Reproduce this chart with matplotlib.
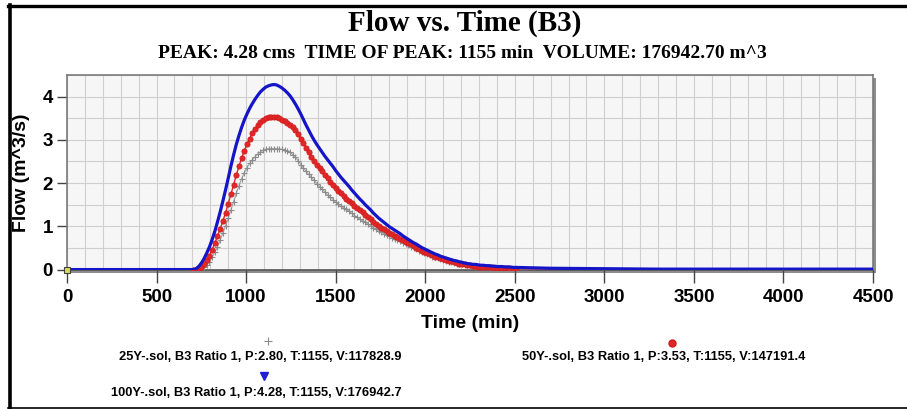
import numpy as np
import matplotlib
matplotlib.use("Agg")
import matplotlib.pyplot as plt
from matplotlib.lines import Line2D
from matplotlib.patches import Rectangle

# time axis of the hydrographs, 15 min step (705 ... 2505 min)
t = np.arange(705, 2506, 15)

q_100y = [0.00, 0.02, 0.07, 0.15, 0.25, 0.38, 0.52, 0.69, 0.88, 1.10,
          1.33, 1.58, 1.84, 2.11, 2.39, 2.65, 2.89, 3.10, 3.29, 3.46,
          3.60, 3.73, 3.84, 3.94, 4.03, 4.11, 4.17, 4.22, 4.25, 4.27,
          4.28, 4.27, 4.24, 4.20, 4.15, 4.09, 4.02, 3.93, 3.83, 3.72,
          3.60, 3.47, 3.34, 3.22, 3.10, 2.99, 2.89, 2.80, 2.71, 2.62,
          2.54, 2.46, 2.38, 2.29, 2.21, 2.13, 2.06, 1.99, 1.92, 1.84,
          1.77, 1.70, 1.63, 1.57, 1.50, 1.44, 1.38, 1.31, 1.25, 1.19,
          1.14, 1.09, 1.04, 0.99, 0.95, 0.91, 0.87, 0.83, 0.78, 0.74,
          0.70, 0.66, 0.62, 0.59, 0.55, 0.51, 0.48, 0.45, 0.42, 0.39,
          0.36, 0.34, 0.31, 0.29, 0.27, 0.25, 0.23, 0.21, 0.20, 0.18,
          0.17, 0.15, 0.14, 0.13, 0.12, 0.12, 0.11, 0.10, 0.10, 0.09,
          0.09, 0.08, 0.08, 0.07, 0.07, 0.07, 0.06, 0.06, 0.06, 0.05,
          0.05]

q_50y = [0.00, 0.00, 0.02, 0.06, 0.12, 0.21, 0.32, 0.46, 0.61, 0.77,
         0.94, 1.12, 1.31, 1.52, 1.74, 1.96, 2.18, 2.39, 2.58, 2.75,
         2.90, 3.03, 3.15, 3.25, 3.34, 3.41, 3.46, 3.50, 3.52, 3.53,
         3.53, 3.52, 3.50, 3.47, 3.44, 3.40, 3.35, 3.29, 3.22, 3.13,
         3.03, 2.93, 2.82, 2.71, 2.61, 2.52, 2.43, 2.35, 2.27, 2.19,
         2.11, 2.03, 1.96, 1.89, 1.82, 1.76, 1.70, 1.64, 1.58, 1.53,
         1.47, 1.42, 1.37, 1.32, 1.27, 1.21, 1.16, 1.11, 1.06, 1.01,
         0.97, 0.93, 0.89, 0.85, 0.82, 0.78, 0.75, 0.71, 0.68, 0.64,
         0.61, 0.58, 0.54, 0.51, 0.47, 0.44, 0.41, 0.38, 0.35, 0.33,
         0.30, 0.28, 0.26, 0.24, 0.22, 0.20, 0.19, 0.17, 0.16, 0.14,
         0.13, 0.12, 0.11, 0.10, 0.09, 0.08, 0.07, 0.07, 0.06, 0.06,
         0.05, 0.05, 0.04, 0.04, 0.04, 0.03, 0.03, 0.03, 0.02, 0.02,
         0.02]

q_25y = [0.00, 0.00, 0.00, 0.02, 0.06, 0.11, 0.18, 0.28, 0.40, 0.53,
         0.68, 0.84, 1.01, 1.19, 1.38, 1.57, 1.76, 1.94, 2.10, 2.24,
         2.36, 2.46, 2.54, 2.61, 2.67, 2.72, 2.76, 2.78, 2.80, 2.80,
         2.80, 2.80, 2.79, 2.78, 2.76, 2.74, 2.71, 2.66, 2.60, 2.52,
         2.43, 2.35, 2.27, 2.20, 2.13, 2.06, 1.99, 1.92, 1.86, 1.79,
         1.73, 1.67, 1.62, 1.56, 1.51, 1.47, 1.43, 1.39, 1.35, 1.30,
         1.25, 1.21, 1.17, 1.13, 1.09, 1.05, 1.01, 0.97, 0.93, 0.89,
         0.86, 0.83, 0.80, 0.77, 0.74, 0.71, 0.68, 0.65, 0.62, 0.59,
         0.56, 0.53, 0.50, 0.47, 0.44, 0.41, 0.38, 0.35, 0.33, 0.30,
         0.28, 0.26, 0.24, 0.22, 0.20, 0.18, 0.17, 0.15, 0.14, 0.13,
         0.12, 0.11, 0.10, 0.09, 0.08, 0.07, 0.06, 0.06, 0.05, 0.05,
         0.04, 0.04, 0.03, 0.03, 0.03, 0.02, 0.02, 0.02, 0.01, 0.01,
         0.01]

# flat parts before the rise and after the recession
head_t = [0, 690]
tail_t = [2700, 3000, 3300, 4500]
tail_100y = [0.03, 0.02, 0.01, 0.01]
tail_50y = [0.01, 0.0, 0.0, 0.0]
tail_25y = [0.0, 0.0, 0.0, 0.0]

labels = ["25Y-.sol, B3 Ratio 1, P:2.80, T:1155, V:117828.9",
          "50Y-.sol, B3 Ratio 1, P:3.53, T:1155, V:147191.4",
          "100Y-.sol, B3 Ratio 1, P:4.28, T:1155, V:176942.7"]

W, H = 907, 409
fig = plt.figure(figsize=(W / 100, H / 100), dpi=100)

def fx(px):
    return px / W

def fy(py):
    return 1 - py / H

ax = fig.add_axes([fx(67), fy(270), fx(873) - fx(67), fy(75) - fy(270)])

# drop shadow of the plot frame
fig.add_artist(Rectangle((fx(70), fy(273)), fx(873) - fx(67), fy(75) - fy(270),
                         transform=fig.transFigure, facecolor="#8c8c8c",
                         edgecolor="none", zorder=-1))

ax.set_facecolor("#f6f6f6")
ax.set_xlim(0, 4500)
ax.set_ylim(-0.01, 4.5)
ax.set_xticks(np.arange(0, 4501, 500))
ax.set_yticks([0, 1, 2, 3, 4])
ax.set_xticks(np.arange(0, 4501, 100), minor=True)
ax.set_yticks(np.arange(0, 4.51, 0.5), minor=True)
ax.grid(True, which="both", color="#cfcfcf", linewidth=0.8)
ax.tick_params(which="minor", length=0)
ax.tick_params(which="major", width=1, color="#444444", labelsize=13.5)
ax.tick_params(axis="x", which="major", length=9.5, pad=4.5)
ax.tick_params(axis="y", which="major", length=7, pad=3)
for lab in ax.get_xticklabels() + ax.get_yticklabels():
    lab.set_fontweight("bold")
    lab.set_family("Liberation Sans")
for s in ax.spines.values():
    s.set_color("#7a7a7a")
    s.set_linewidth(1.2)
ax.spines["bottom"].set_color("#555555")
ax.set_axisbelow(True)

def full(vals, tail):
    xs = head_t + list(t) + tail_t
    ys = [0.0, 0.0] + list(vals) + tail
    return xs, ys

x25, y25 = full(q_25y, tail_25y)
x50, y50 = full(q_50y, tail_50y)
x100, y100 = full(q_100y, tail_100y)

ax.plot(x25, y25, color="#a8a8a8", lw=0.9, zorder=3)
ax.plot(t, q_25y, ls="none", marker="+", ms=4.5, mew=0.8, color="#8c8c8c", zorder=3)
ax.plot(x50, y50, color="#e02828", lw=1.0, zorder=4)
ax.plot(t, q_50y, ls="none", marker="o", ms=3.8, mec="#d01818", mfc="#e02828",
        mew=0.5, zorder=4)
ax.plot(x100, y100, color="#1515c8", lw=2.3, zorder=5, solid_capstyle="butt")
ax.plot([0], [0], ls="none", marker="s", ms=4, mfc="#d8d860", mec="#404040",
        mew=0.8, zorder=6, clip_on=False)

ax.set_xlabel("Time (min)", fontsize=14, fontweight="bold",
              family="Liberation Sans", labelpad=6)
ax.set_ylabel("Flow (m^3/s)", fontsize=14, fontweight="bold",
              family="Liberation Sans", labelpad=9)

fig.text(fx(465), fy(23), "Flow vs. Time (B3)", ha="center", va="center",
         fontsize=21, fontweight="bold", family="Liberation Serif")
fig.text(fx(462), fy(53), "PEAK: 4.28 cms  TIME OF PEAK: 1155 min  VOLUME: 176942.70 m^3",
         ha="center", va="center", fontsize=14, fontweight="bold",
         family="Liberation Serif")

# legend under the chart
leg_font = ["Liberation Sans Narrow", "Liberation Sans"]
entries = [(labels[0], 260, 341, 357, dict(marker="+", ms=6, mew=0.8, color="#8c8c8c")),
           (labels[1], 664, 343, 357, dict(marker="o", ms=5, color="#e02828", mec="#d01818")),
           (labels[2], 256, 376, 393, dict(marker="v", ms=6, color="#2020d0", mec="#2020d0"))]
for txt, cx, my, ty, mk in entries:
    fig.add_artist(Line2D([fx(cx + 8)], [fy(my)], transform=fig.transFigure,
                          ls="none", **mk))
    fig.text(fx(cx), fy(ty), txt, ha="center", va="center", fontsize=9.3,
             fontweight="bold", family=leg_font)

# black frame around the picture
fig.add_artist(Line2D([fx(9.5), fx(9.5)], [fy(5), fy(408)], transform=fig.transFigure,
                      color="black", lw=2.6))
fig.add_artist(Line2D([fx(8), 1], [fy(5.5), fy(5.5)], transform=fig.transFigure,
                      color="black", lw=2.4))
fig.add_artist(Line2D([fx(8), 1], [fy(407.5), fy(407.5)], transform=fig.transFigure,
                      color="black", lw=1.2))

fig.savefig("out.png", dpi=100)
